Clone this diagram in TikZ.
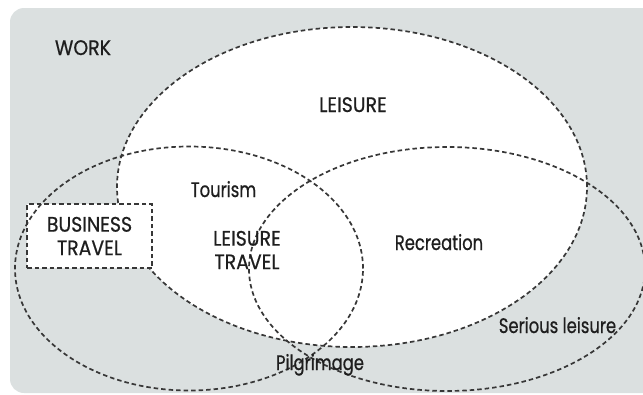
\documentclass[tikz,border=0pt]{standalone}
\usepackage{fontspec}
% capitals and mixed-case words use slightly different widths
\setmainfont{Poppins}[FakeStretch=0.78,FakeBold=0.6]
\newfontfamily\capsfont{Poppins}[FakeStretch=0.9,FakeBold=0.6]
\definecolor{workgrey}{RGB}{219,224,224}
\definecolor{dashgrey}{RGB}{55,55,55}
\definecolor{ink}{RGB}{30,30,30}
\begin{document}
\begin{tikzpicture}[x=1pt,y=-1pt,
  boundary/.style={draw=dashgrey, line width=1.7pt, dash pattern=on 4.5pt off 3pt},
  txt/.style={text=ink, font=\fontsize{21}{23.5}\selectfont, inner sep=0pt},
  captxt/.style={txt, font=\fontsize{21}{23.5}\selectfont\capsfont},
  word/.style={txt, anchor=base},
  capword/.style={captxt, anchor=base},
  ]
\useasboundingbox (0,0) rectangle (643,394);
\begin{scope}
  \clip (0,0) rectangle (643,394);
  % the WORK domain
  \fill[workgrey, rounded corners=14pt] (10,8) rectangle (700,393);
  % leisure domain
  \draw[boundary, fill=white] (352,187) ellipse [x radius=235pt, y radius=160pt];
  % business travel box
  \node[boundary, fill=white, captxt, align=center, minimum width=125pt,
        minimum height=64pt] (business) at (89.5,236) {BUSINESS\\TRAVEL};
  % tourism and recreation ellipses
  \draw[boundary] (189,268.5) ellipse [x radius=174pt, y radius=122pt];
  \draw[boundary] (447,269) ellipse [x radius=198pt, y radius=122pt];
\end{scope}
\node[capword] (work) at (83,55) {WORK};
\node[capword] (leisure) at (353,112) {LEISURE};
\node[word] (tourism) at (223.5,197) {Tourism};
\node[captxt, align=center] (leisuretravel) at (247,250) {LEISURE\\TRAVEL};
\node[word] (recreation) at (439,250) {Recreation};
\node[word] (serious) at (557.5,333) {Serious leisure};
\node[word] (pilgrimage) at (320,370) {Pilgrimage};
\end{tikzpicture}
\end{document}
